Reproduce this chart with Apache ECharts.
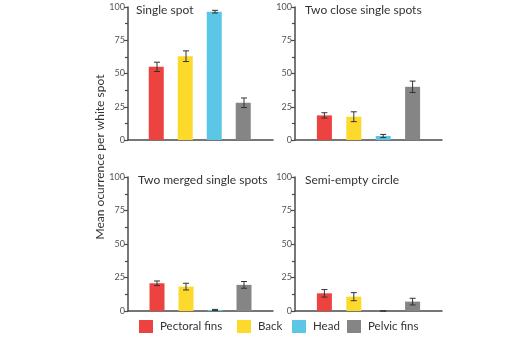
<!DOCTYPE html>
<html>
<head>
<meta charset="utf-8">
<script src="https://cdn.jsdelivr.net/npm/echarts@6/dist/echarts.min.js"></script>
<style>
  html, body { margin: 0; padding: 0; background: #fff; }
  #chart { width: 528px; height: 340px; }
</style>
</head>
<body>
<div id="chart"></div>
<script>
const parts = ['Pectoral fins', 'Back', 'Head', 'Pelvic fins']
const partColors = ['#ec4341', '#fcd92a', '#5cc6e6', '#858585']
const panelTitles = ['Single spot', 'Two close single spots', 'Two merged single spots', 'Semi-empty circle']

// mean and error per panel, order follows parts
const singleSpot = [55, 63, 96.5, 28]
const singleSpotErr = [3.5, 4, 1, 3.6]
const twoClose = [18.5, 17.5, 3, 40]
const twoCloseErr = [2, 3.7, 1.2, 4.3]
const twoMerged = [20.7, 18.2, 0.8, 19.5]
const twoMergedErr = [1.7, 2.5, 0.4, 2.5]
const semiEmpty = [13.2, 10.7, 0, 7]
const semiEmptyErr = [2.8, 3, 0, 2.5]

const yTicks = [0, 25, 50, 75, 100]

const means = [singleSpot, twoClose, twoMerged, semiEmpty]
const errs = [singleSpotErr, twoCloseErr, twoMergedErr, semiEmptyErr]

const grids = [
  { left: 128, top: 7, width: 145, height: 133 },
  { left: 295, top: 7, width: 147, height: 133 },
  { left: 128, top: 177, width: 145, height: 134 },
  { left: 295, top: 177, width: 147, height: 134 },
]

const axisColor = '#4a4a4a'
const font = 'Lato'

const xAxis = grids.map((g, i) => ({
  type: 'value', gridIndex: i, min: 0, max: 5,
  axisLine: { show: true, onZero: false, lineStyle: { color: axisColor, width: 1.5 } },
  axisTick: { show: false }, axisLabel: { show: false }, splitLine: { show: false },
}))

const yAxis = grids.map((g, i) => ({
  type: 'value', gridIndex: i, min: 0, max: 100, interval: 25,
  axisLine: { show: true, lineStyle: { color: axisColor, width: 1.5 } },
  axisTick: { show: true, length: 4, lineStyle: { color: axisColor, width: 1.2 } },
  minorTick: { show: true, splitNumber: 2, length: 3, lineStyle: { color: axisColor, width: 1.2 } },
  axisLabel: {
    color: '#555', fontSize: 9, margin: 3, fontFamily: font,
    formatter: (v) => yTicks.includes(v) ? String(v) : '',
  },
  splitLine: { show: false },
}))

const series = []
means.forEach((vals, i) => {
  series.push({
    type: 'bar', xAxisIndex: i, yAxisIndex: i, barWidth: 15, silent: true,
    data: vals.map((v, k) => ({ value: [k + 1, v], itemStyle: { color: partColors[k] } })),
  })
  series.push({
    type: 'custom', xAxisIndex: i, yAxisIndex: i, silent: true, z: 5,
    data: vals.map((v, k) => [k + 1, v - errs[i][k], v + errs[i][k]]),
    renderItem(params, api) {
      const lo = api.coord([api.value(0), api.value(1)])
      const hi = api.coord([api.value(0), api.value(2)])
      const cap = 3
      const st = { stroke: '#333', lineWidth: 1 }
      return {
        type: 'group',
        children: [
          { type: 'line', shape: { x1: lo[0], y1: lo[1], x2: hi[0], y2: hi[1] }, style: st },
          { type: 'line', shape: { x1: hi[0] - cap, y1: hi[1], x2: hi[0] + cap, y2: hi[1] }, style: st },
          { type: 'line', shape: { x1: lo[0] - cap, y1: lo[1], x2: lo[0] + cap, y2: lo[1] }, style: st },
        ],
      }
    },
  })
})

// dummy series, only for the legend
parts.forEach((p, k) => {
  series.push({ name: p, type: 'bar', xAxisIndex: 0, yAxisIndex: 0, data: [], itemStyle: { color: partColors[k] } })
})

const legendLeft = [139, 237, 292, 347]
const legend = parts.map((p, k) => ({
  data: [p], left: legendLeft[k], top: 320, padding: 0, itemWidth: 14, itemHeight: 13, itemGap: 0,
  icon: 'rect', selectedMode: false,
  textStyle: { color: '#333', fontSize: 11.5, fontFamily: font, padding: [0, 0, 0, 2] },
}))

const titlePos = [[136, 4], [305, 4], [138, 174], [305, 174]]
const graphic = panelTitles.map((t, i) => ({
  type: 'text', left: titlePos[i][0], top: titlePos[i][1],
  style: { text: t, fill: '#333', font: `12px "${font}"` },
}))
graphic.push({
  type: 'text', x: 100, y: 157, rotation: Math.PI / 2,
  style: { text: 'Mean ocurrence per white spot', fill: '#333', font: `12px "${font}"`, align: 'center', verticalAlign: 'middle' },
})

const chart = echarts.init(document.getElementById('chart'))
chart.setOption({
  animation: false,
  grid: grids,
  xAxis, yAxis, series, legend, graphic,
})
</script>
</body>
</html>
